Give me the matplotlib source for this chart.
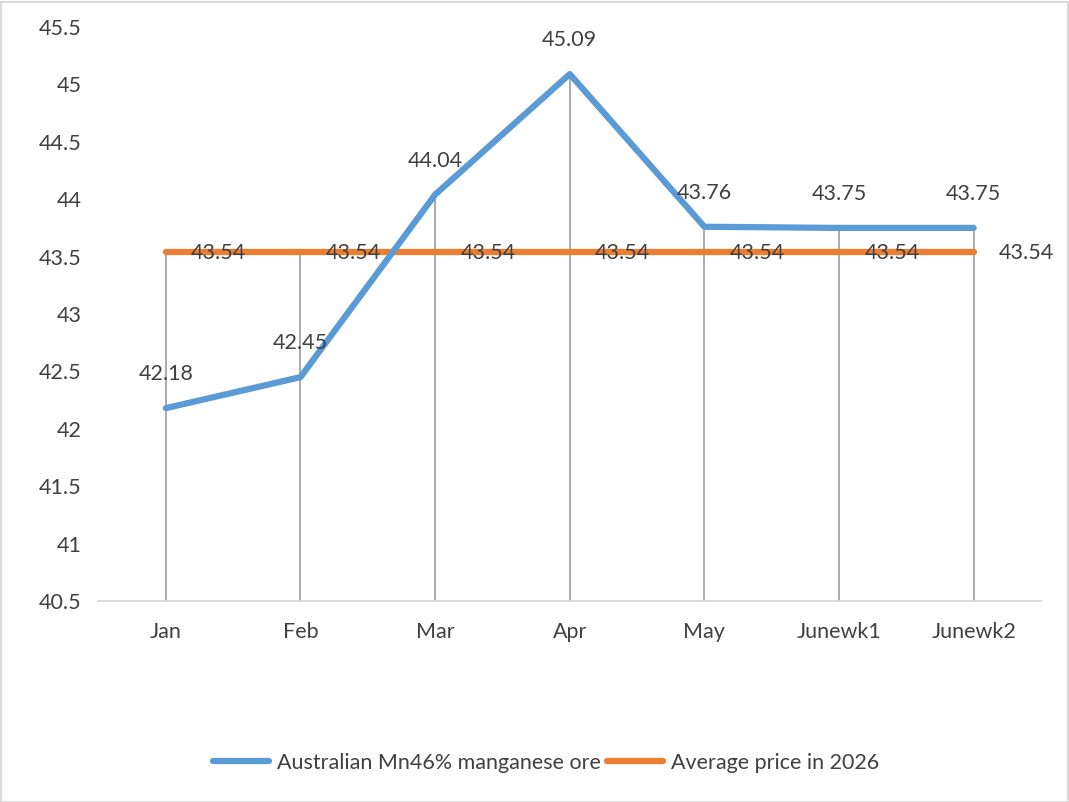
import matplotlib
matplotlib.use("Agg")
import matplotlib.pyplot as plt
from matplotlib.lines import Line2D
from matplotlib.patches import Rectangle

categories = ["Jan", "Feb", "Mar", "Apr", "May", "Junewk1", "Junewk2"]
ore_prices = [42.18, 42.45, 44.04, 45.09, 43.76, 43.75, 43.75]
avg_prices = [43.54, 43.54, 43.54, 43.54, 43.54, 43.54, 43.54]
yticks = [40.5, 41, 41.5, 42, 42.5, 43, 43.5, 44, 44.5, 45, 45.5]
series_names = ["Australian Mn46% manganese ore", "Average price in 2026"]

plt.rcParams['font.family'] = ['Lato', 'DejaVu Sans']
text_color = "#404040"
blue = "#5B9BD5"
orange = "#ED7D31"
FS = 15.5

W, H = 1069, 802
fig = plt.figure(figsize=(W / 100, H / 100), dpi=100)
ax = fig.add_axes([98.5 / W, 1 - 601 / H, (1041 - 98.5) / W, (601 - 27) / H])

x = list(range(len(categories)))
ax.set_xlim(-0.5, len(categories) - 0.5)
ax.set_ylim(40.5, 45.5)

# drop lines
for xi, a, b in zip(x, ore_prices, avg_prices):
    ax.plot([xi, xi], [40.5, max(a, b)], color="#A5A5A5", lw=1.3, zorder=1)

ax.plot(x, avg_prices, color=orange, lw=4.5, solid_capstyle="round", zorder=2)
ax.plot(x, ore_prices, color=blue, lw=4.5, solid_capstyle="round", zorder=3)

for xi, v in zip(x, ore_prices):
    ax.annotate(f"{v:g}", (xi, v), xytext=(0, 34), textcoords="offset pixels",
                ha="center", va="center", fontsize=FS, color=text_color, zorder=5)
for xi, v in zip(x, avg_prices):
    ax.annotate(f"{v:g}", (xi, v), xytext=(53, -1), textcoords="offset pixels",
                ha="center", va="center", fontsize=FS, color=text_color, zorder=5)

ax.set_xticks(x)
ax.set_xticklabels(categories)
ax.set_yticks(yticks)
ax.set_yticklabels([f"{t:g}" for t in yticks])
ax.tick_params(axis="both", length=0, labelsize=FS, colors=text_color)
ax.tick_params(axis="x", pad=15)
ax.tick_params(axis="y", pad=12)
for s in ["top", "right", "left"]:
    ax.spines[s].set_visible(False)
ax.spines["bottom"].set_color("#D9D9D9")
ax.spines["bottom"].set_linewidth(1.3)

handles = [Line2D([0], [0], color=blue, lw=4.5, solid_capstyle="round"),
           Line2D([0], [0], color=orange, lw=4.5, solid_capstyle="round")]
leg = fig.legend(handles, series_names, loc="center", bbox_to_anchor=(546 / W, 1 - 763 / H),
                 ncol=2, frameon=False, fontsize=FS, handlelength=2.6, columnspacing=0.3,
                 handletextpad=0.35)
for t in leg.get_texts():
    t.set_color(text_color)

fig.patches.append(Rectangle((0.5 / W, 0.5 / H), 1 - 2 / W, 1 - 2 / H, transform=fig.transFigure,
                             fill=False, edgecolor="#D9D9D9", lw=1.5))

fig.savefig("out.png", dpi=100, facecolor="white")
